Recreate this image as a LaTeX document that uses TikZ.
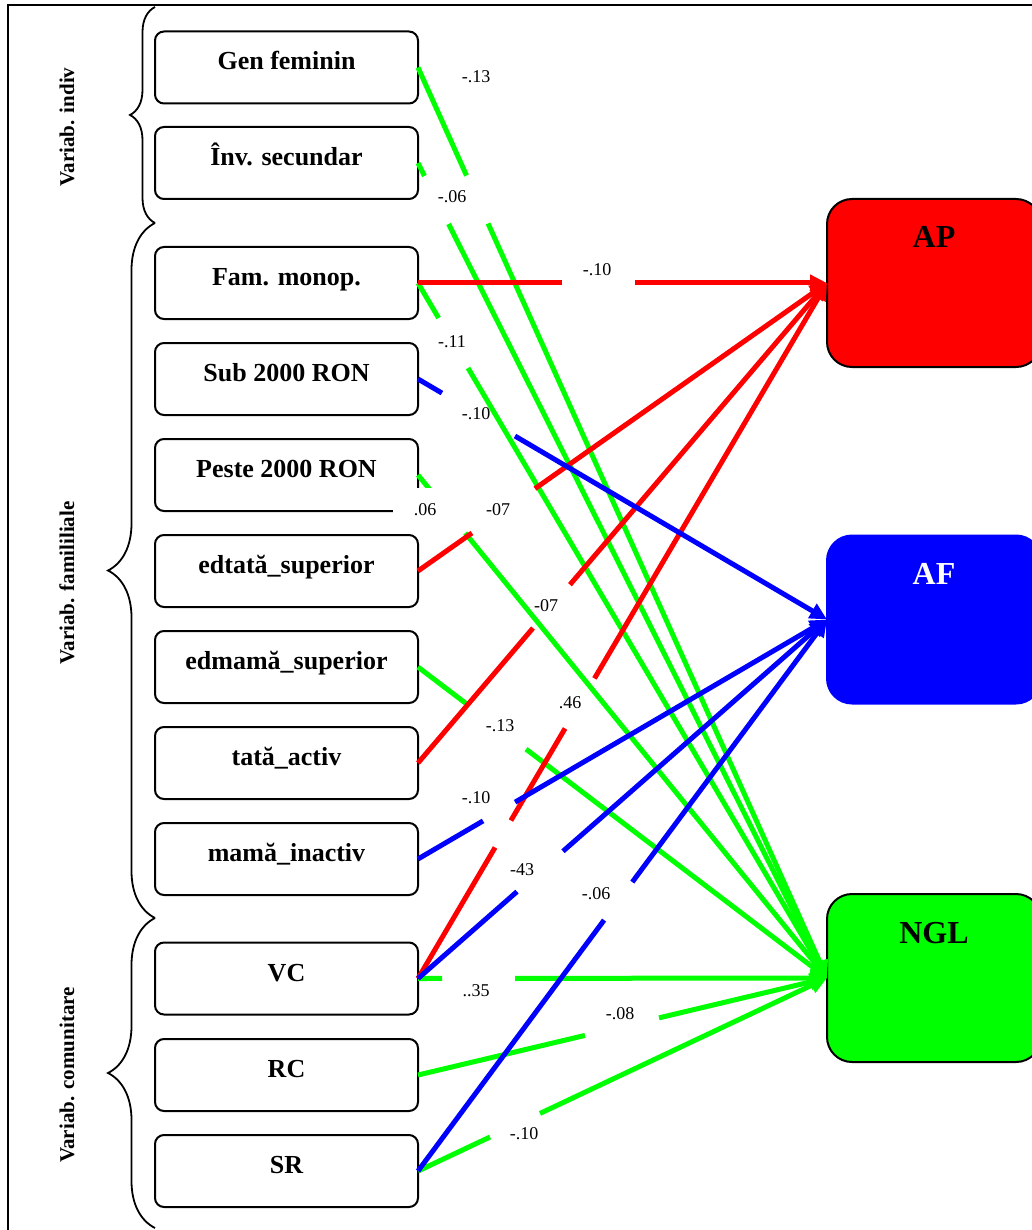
\documentclass[tikz,border=0pt]{standalone}
\usepackage{fontspec}
\setmainfont{Liberation Serif}
\usetikzlibrary{arrows.meta,decorations.pathreplacing}
\definecolor{grn}{RGB}{0,255,0}
\definecolor{redc}{RGB}{255,0,0}
\definecolor{bluc}{RGB}{0,0,255}
\begin{document}
\begin{tikzpicture}[x=1pt,y=-1pt,
  vbox/.style={draw=black, line width=2pt, rounded corners=9pt, minimum width=263pt, minimum height=72pt,
    inner sep=0pt, outer sep=0pt, font=\fontsize{26}{30}\selectfont\bfseries, text height=18pt, text depth=13pt},
  obox/.style={line width=2pt, rounded corners=25pt, minimum width=214pt, minimum height=168pt,
    inner sep=0pt, outer sep=0pt, font=\fontsize{32}{36}\selectfont\bfseries, text height=22pt, text depth=92pt},
  conn/.style={line width=5pt, -{Triangle[length=17pt,width=16pt]}},
  coef/.style={font=\fontsize{18}{20}\selectfont, anchor=base, inner sep=0pt},
  side/.style={font=\fontsize{21}{24}\selectfont\bfseries, rotate=90, inner sep=0pt},
  brc/.style={decorate, line width=1.8pt, decoration={brace, amplitude=#1}},
]
\useasboundingbox (0,0) rectangle (1032,1230);
% frame
\draw[line width=2pt] (8,1240) -- (8,5.5) -- (1045,5.5);

% braces and group labels
\draw[brc=25pt] (155,223) -- (155,7);
\draw[brc=47pt] (155,918) -- (155,223);
\draw[brc=47pt] (155,1228) -- (155,918);
\node[side] (sindiv) at (67,127) {Variab. indiv};
\node[side] (sfam) at (67,583) {Variab. famililiale};
\node[side] (scom) at (67,1075) {Variab. comunitare};

% variable boxes
\node[vbox] (gen) at (286.5,67.5) {Gen feminin};
\node[vbox] (inv) at (286.5,163) {Înv. secundar};
\node[vbox] (fam) at (286.5,283) {Fam. monop.};
\node[vbox] (sub) at (286.5,379) {Sub 2000 RON};
\node[vbox] (pes) at (286.5,475) {Peste 2000 RON};
\node[vbox] (edt) at (286.5,571) {edtată\_superior};
\node[vbox] (edm) at (286.5,667) {edmamă\_superior};
\node[vbox] (tat) at (286.5,763) {tată\_activ};
\node[vbox] (mam) at (286.5,859) {mamă\_inactiv};
\node[vbox] (vc) at (286.5,978.5) {VC};
\node[vbox] (rc) at (286.5,1075) {RC};
\node[vbox] (sr) at (286.5,1171) {SR};

% outcome boxes
\node[obox, fill=redc, draw=black] (ap) at (934,283) {AP};
\node[obox, fill=bluc, draw=bluc, text=white] (af) at (934,619.5) {AF};
\node[obox, fill=grn, draw=black] (ngl) at (934,978) {NGL};

% connectors to NGL
\draw[conn, grn, dash pattern=on 118.4pt off 52.6pt on 3000pt] (gen.east) -- (ngl.west);
\draw[conn, grn, dash pattern=on 14.5pt off 53.7pt on 3000pt] (inv.east) -- (ngl.west);
\draw[conn, grn, dash pattern=on 40.6pt off 58pt on 3000pt] (fam.east) -- (ngl.west);
\draw[conn, grn, dash pattern=on 19.3pt off 55.5pt on 3000pt] (pes.east) -- (ngl.west);
\draw[conn, grn, dash pattern=on 60.3pt off 75.4pt on 3000pt] (edm.east) -- (ngl.west);
\draw[conn, grn, dash pattern=on 24pt off 73pt on 3000pt] (vc.east) -- (ngl.west);
\draw[conn, grn, dash pattern=on 171.6pt off 76.1pt on 3000pt] (rc.east) -- (ngl.west);
\draw[conn, grn, dash pattern=on 79.6pt off 55.3pt on 3000pt] (sr.east) -- (ngl.west);
% connectors to AP
\draw[conn, redc, dash pattern=on 144pt off 73pt on 3000pt] (fam.east) -- (ap.west);
\draw[conn, redc, dash pattern=on 66pt off 77.1pt on 3000pt] (edt.east) -- (ap.west);
\draw[conn, redc, dash pattern=on 177.3pt off 57pt on 3000pt] (tat.east) -- (ap.west);
\draw[conn, redc, dash pattern=on 152pt off 31.3pt on 106.8pt off 58pt on 3000pt] (vc.east) -- (ap.west);
% connectors to AF
\draw[conn, bluc, dash pattern=on 27.8pt off 84.7pt on 3000pt] (sub.east) -- (af.west);
\draw[conn, bluc, dash pattern=on 75.4pt off 37.1pt on 3000pt] (mam.east) -- (af.west);
\draw[conn, bluc, dash pattern=on 131.7pt off 61.2pt on 3000pt] (vc.east) -- (af.west);
\draw[conn, bluc, dash pattern=on 312.4pt off 47.3pt on 3000pt] (sr.east) -- (af.west);

% white label box over the Peste box corner
\fill[white] (393,488) rectangle (466,532);

% coefficients
\node[coef] (c1) at (476,83) {-.13};
\node[coef] (c2) at (452,203) {-.06};
\node[coef] (c3) at (597,276) {-.10};
\node[coef] (c4) at (452,347) {-.11};
\node[coef] (c5) at (476,419) {-.10};
\node[coef] (c6) at (425,515) {.06};
\node[coef] (c7) at (498,515) {-07};
\node[coef] (c8) at (546,611) {-07};
\node[coef] (c9) at (570,708) {.46};
\node[coef] (c10) at (500,731) {-.13};
\node[coef] (c11) at (476,803) {-.10};
\node[coef] (c12) at (522,875) {-43};
\node[coef] (c13) at (596,899) {-.06};
\node[coef] (c14) at (476,996) {..35};
\node[coef] (c15) at (620,1019) {-.08};
\node[coef] (c16) at (524,1139) {-.10};
\end{tikzpicture}
\end{document}
